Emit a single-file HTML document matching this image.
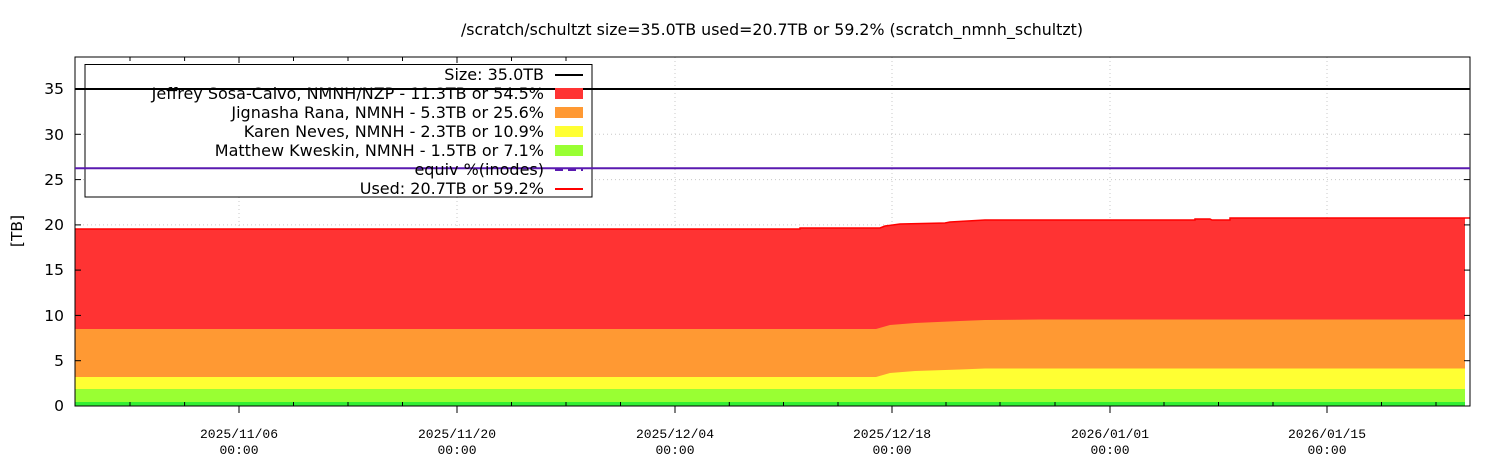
<!DOCTYPE html>
<html><head><meta charset="utf-8"><style>
html,body{margin:0;padding:0;background:#fff}
svg{display:block}
</style></head><body>
<svg width="1500" height="470" xmlns="http://www.w3.org/2000/svg" font-family="DejaVu Sans, sans-serif">
<rect width="1500" height="470" fill="#fff"/>
<text x="772" y="35" font-size="15.8" text-anchor="middle">/scratch/schultzt size=35.0TB used=20.7TB or 59.2% (scratch_nmnh_schultzt)</text>
<g stroke="#c8c8c8" stroke-width="1" stroke-dasharray="1,3">
<line x1="75" x2="1470" y1="360.7" y2="360.7"/>
<line x1="75" x2="1470" y1="315.4" y2="315.4"/>
<line x1="75" x2="1470" y1="270.1" y2="270.1"/>
<line x1="75" x2="1470" y1="224.9" y2="224.9"/>
<line x1="75" x2="1470" y1="179.6" y2="179.6"/>
<line x1="75" x2="1470" y1="134.3" y2="134.3"/>
<line x1="239" x2="239" y1="57" y2="406"/>
<line x1="457" x2="457" y1="57" y2="406"/>
<line x1="675" x2="675" y1="57" y2="406"/>
<line x1="892" x2="892" y1="57" y2="406"/>
<line x1="1110" x2="1110" y1="57" y2="406"/>
<line x1="1327" x2="1327" y1="57" y2="406"/>
</g>
<polygon fill="#ff3333" points="75,229 800,229 800,228 880,228 885,226 900,224 945,223 950,222 985,220 1195,220 1195,219 1210,219 1212,220 1230,220 1230,218 1465,218 1465,406 75,406"/>
<polyline fill="none" stroke="#ff0000" stroke-width="1.5" points="75,229 800,229 800,228 880,228 885,226 900,224 945,223 950,222 985,220 1195,220 1195,219 1210,219 1212,220 1230,220 1230,218 1470,218"/>
<polygon fill="#ff9933" points="75,329 876,329 890,325 915,323 960,321 985,320 1040,319.5 1465,319.5 1465,406 75,406"/>
<polygon fill="#ffff33" points="75,377 876,377 890,373 915,371 960,369.5 985,368.5 1465,368.5 1465,406 75,406"/>
<rect x="75" y="389" width="1390" height="17" fill="#99ff33"/>
<rect x="75" y="402" width="1390" height="4" fill="#33ee33"/>
<rect x="75" y="57" width="1395" height="349" fill="none" stroke="#000" stroke-width="1"/>
<g stroke="#000" stroke-width="1">
<line x1="75" x2="81" y1="406" y2="406"/><line x1="1464" x2="1470" y1="406" y2="406"/>
<line x1="75" x2="81" y1="360.7" y2="360.7"/><line x1="1464" x2="1470" y1="360.7" y2="360.7"/>
<line x1="75" x2="81" y1="315.4" y2="315.4"/><line x1="1464" x2="1470" y1="315.4" y2="315.4"/>
<line x1="75" x2="81" y1="270.1" y2="270.1"/><line x1="1464" x2="1470" y1="270.1" y2="270.1"/>
<line x1="75" x2="81" y1="224.9" y2="224.9"/><line x1="1464" x2="1470" y1="224.9" y2="224.9"/>
<line x1="75" x2="81" y1="179.6" y2="179.6"/><line x1="1464" x2="1470" y1="179.6" y2="179.6"/>
<line x1="75" x2="81" y1="134.3" y2="134.3"/><line x1="1464" x2="1470" y1="134.3" y2="134.3"/>
<line x1="75" x2="81" y1="89" y2="89"/><line x1="1464" x2="1470" y1="89" y2="89"/>
</g>
<g stroke="#000" stroke-width="1">
<line x1="130" x2="130" y1="406" y2="402"/><line x1="184.6" x2="184.6" y1="406" y2="402"/>
<line x1="239" x2="239" y1="406" y2="413"/><line x1="293.5" x2="293.5" y1="406" y2="402"/><line x1="348" x2="348" y1="406" y2="402"/><line x1="402.5" x2="402.5" y1="406" y2="402"/>
<line x1="457" x2="457" y1="406" y2="413"/><line x1="511.5" x2="511.5" y1="406" y2="402"/><line x1="566" x2="566" y1="406" y2="402"/><line x1="620.5" x2="620.5" y1="406" y2="402"/>
<line x1="675" x2="675" y1="406" y2="413"/><line x1="729.3" x2="729.3" y1="406" y2="402"/><line x1="783.5" x2="783.5" y1="406" y2="402"/><line x1="838" x2="838" y1="406" y2="402"/>
<line x1="892" x2="892" y1="406" y2="413"/><line x1="946" x2="946" y1="406" y2="402"/><line x1="1000" x2="1000" y1="406" y2="402"/><line x1="1055" x2="1055" y1="406" y2="402"/>
<line x1="1110" x2="1110" y1="406" y2="413"/><line x1="1164" x2="1164" y1="406" y2="402"/><line x1="1218.5" x2="1218.5" y1="406" y2="402"/><line x1="1273" x2="1273" y1="406" y2="402"/>
<line x1="1327" x2="1327" y1="406" y2="413"/><line x1="1381.5" x2="1381.5" y1="406" y2="402"/><line x1="1436" x2="1436" y1="406" y2="402"/>
<line x1="130" x2="130" y1="57" y2="61"/><line x1="184.6" x2="184.6" y1="57" y2="61"/><line x1="239" x2="239" y1="57" y2="63"/><line x1="293.5" x2="293.5" y1="57" y2="61"/><line x1="348" x2="348" y1="57" y2="61"/><line x1="402.5" x2="402.5" y1="57" y2="61"/><line x1="457" x2="457" y1="57" y2="63"/><line x1="511.5" x2="511.5" y1="57" y2="61"/><line x1="566" x2="566" y1="57" y2="61"/>
</g>
<g font-size="15.5" text-anchor="end">
<text x="64" y="411">0</text><text x="64" y="366">5</text><text x="64" y="321">10</text><text x="64" y="275">15</text><text x="64" y="230">20</text><text x="64" y="185">25</text><text x="64" y="140">30</text><text x="64" y="94">35</text>
</g>
<text x="22" y="231" font-size="15.5" text-anchor="middle" transform="rotate(-90 22 231)">[TB]</text>
<g font-family="Liberation Mono, monospace" font-size="13" text-anchor="middle">
<text x="239" y="438">2025/11/06</text><text x="239" y="454">00:00</text>
<text x="457" y="438">2025/11/20</text><text x="457" y="454">00:00</text>
<text x="675" y="438">2025/12/04</text><text x="675" y="454">00:00</text>
<text x="892" y="438">2025/12/18</text><text x="892" y="454">00:00</text>
<text x="1110" y="438">2026/01/01</text><text x="1110" y="454">00:00</text>
<text x="1327" y="438">2026/01/15</text><text x="1327" y="454">00:00</text>
</g>
<rect x="85" y="64.5" width="507" height="132.5" fill="#fff" stroke="#000" stroke-width="1"/>
<line x1="75" x2="1470" y1="89" y2="89" stroke="#000" stroke-width="2"/>
<line x1="75" x2="1470" y1="168.3" y2="168.3" stroke="#5a1ab0" stroke-width="2"/>
<g font-size="16" text-anchor="end">
<text x="544" y="80">Size: 35.0TB</text>
<text x="544" y="99">Jeffrey Sosa-Calvo, NMNH/NZP - 11.3TB or 54.5%</text>
<text x="544" y="118">Jignasha Rana, NMNH - 5.3TB or 25.6%</text>
<text x="544" y="137">Karen Neves, NMNH - 2.3TB or 10.9%</text>
<text x="544" y="156">Matthew Kweskin, NMNH - 1.5TB or 7.1%</text>
<text x="544" y="175">equiv %(inodes)</text>
<text x="544" y="194">Used: 20.7TB or 59.2%</text>
</g>
<line x1="555" x2="583" y1="75" y2="75" stroke="#000" stroke-width="2"/>
<rect x="555" y="88" width="28" height="11" fill="#ff3333"/>
<rect x="555" y="107" width="28" height="11" fill="#ff9933"/>
<rect x="555" y="126" width="28" height="11" fill="#ffff33"/>
<rect x="555" y="145" width="28" height="11" fill="#99ff33"/>
<line x1="555" x2="583" y1="170" y2="170" stroke="#5a1ab0" stroke-width="2" stroke-dasharray="8,5"/>
<line x1="555" x2="583" y1="189" y2="189" stroke="#ff0000" stroke-width="2"/>
</svg>
</body></html>
